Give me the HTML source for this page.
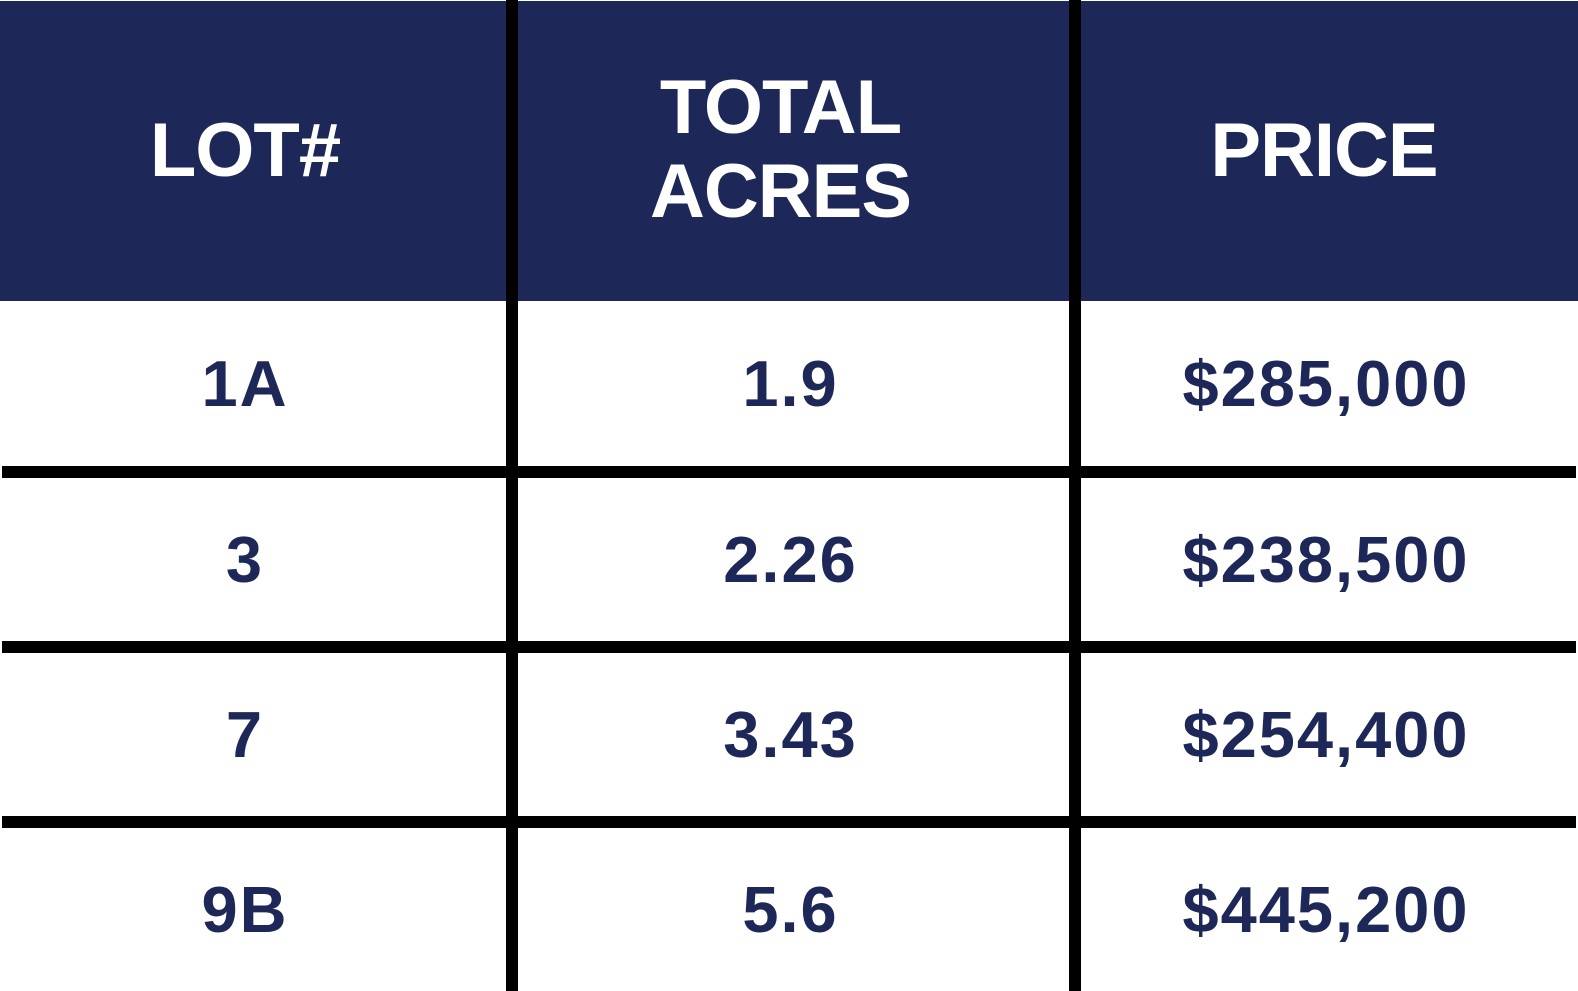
<!DOCTYPE html>
<html><head><style>
html,body{margin:0;padding:0;width:1578px;height:991px;background:#fff;overflow:hidden;position:relative;font-family:"Liberation Sans",sans-serif;font-weight:bold}
.hdr{position:absolute;left:0;top:1px;width:1578px;height:300px;background:#1d2758}
.t{position:absolute;display:flex;align-items:center;justify-content:center;text-align:center}
.h{color:#fff;font-size:76px;letter-spacing:-1px;line-height:84px}
.b{color:#1d2758;font-size:65px;letter-spacing:2px}
.v{position:absolute;top:0;width:12px;height:991px;background:#000}
.hl{position:absolute;left:2px;width:1574px;height:12px;background:#000}
</style></head><body>
<div class="hdr"></div>
<div class="t h" style="left:0;width:490px;top:1px;height:300px">LOT#</div>
<div class="t h" style="left:518px;width:525px;top:0;height:300px">TOTAL<br>ACRES</div>
<div class="t h" style="left:1081px;width:486px;top:1px;height:300px">PRICE</div>

<div class="t b" style="left:0;width:490px;top:301px;height:165px">1A</div>
<div class="t b" style="left:518px;width:545px;top:301px;height:165px">1.9</div>
<div class="t b" style="left:1081px;width:490px;top:301px;height:165px">$285,000</div>

<div class="t b" style="left:0;width:490px;top:478px;height:163px">3</div>
<div class="t b" style="left:518px;width:545px;top:478px;height:163px">2.26</div>
<div class="t b" style="left:1081px;width:490px;top:478px;height:163px">$238,500</div>

<div class="t b" style="left:0;width:490px;top:653px;height:163px">7</div>
<div class="t b" style="left:518px;width:545px;top:653px;height:163px">3.43</div>
<div class="t b" style="left:1081px;width:490px;top:653px;height:163px">$254,400</div>

<div class="t b" style="left:0;width:490px;top:828px;height:163px">9B</div>
<div class="t b" style="left:518px;width:545px;top:828px;height:163px">5.6</div>
<div class="t b" style="left:1081px;width:490px;top:828px;height:163px">$445,200</div>

<div class="hl" style="top:466px"></div>
<div class="hl" style="top:641px"></div>
<div class="hl" style="top:816px"></div>
<div class="v" style="left:506px"></div>
<div class="v" style="left:1069px"></div>
</body></html>
